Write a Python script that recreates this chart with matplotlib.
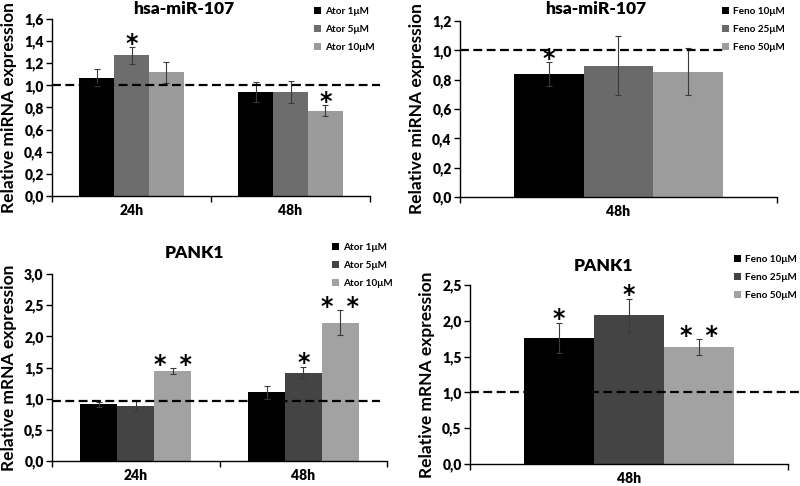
import matplotlib
matplotlib.use("Agg")
import matplotlib.pyplot as plt
import numpy as np

plt.rcParams['font.family'] = ['Lato', 'DejaVu Sans']
plt.rcParams['font.weight'] = 'bold'

# ---- data ----
ator_groups = ["24h", "48h"]
feno_groups = ["48h"]
ator_labels = ["Ator 1μM", "Ator 5μM", "Ator 10μM"]
feno_labels = ["Feno 10μM", "Feno 25μM", "Feno 50μM"]

mir_ator = [[1.07, 0.94], [1.27, 0.94], [1.12, 0.77]]
mir_ator_err = [[0.08, 0.09], [0.075, 0.10], [0.095, 0.05]]
mir_ator_sig = [["", ""], ["*", ""], ["", "*"]]

mir_feno = [[0.84], [0.895], [0.855]]
mir_feno_err = [[0.08], [0.20], [0.16]]
mir_feno_sig = [["*"], [""], [""]]

pank_ator = [[0.91, 1.10], [0.88, 1.42], [1.44, 2.22]]
pank_ator_err = [[0.04, 0.10], [0.08, 0.09], [0.05, 0.20]]
pank_ator_sig = [["", ""], ["", "*"], ["**", "**"]]

pank_feno = [[1.76], [2.08], [1.63]]
pank_feno_err = [[0.21], [0.23], [0.11]]
pank_feno_sig = [["*"], ["*"], ["**"]]

fig = plt.figure(figsize=(8, 4.86), dpi=100)

def panel(rect, groups, vals, errs, sigs, labels, colors, ylim, yticks,
          ylabel, title, title_xy, ref, ref_xmax, leg_anchor):
    ax = fig.add_axes(rect)
    x = np.arange(len(groups))
    w = 0.22
    bars = []
    for i in range(3):
        pos = x + (i - 1) * w
        b = ax.bar(pos, vals[i], width=w, color=colors[i], zorder=2,
                   label=labels[i])
        bars.append(b)
        ax.errorbar(pos, vals[i], yerr=errs[i], fmt='none', ecolor='#3a3a3a',
                    elinewidth=0.8, capsize=2, capthick=0.8, zorder=3)
        for j, s in enumerate(sigs[i]):
            if s:
                txt = "\u2009 ".join(s) if len(s) > 1 else s
                ax.annotate(txt, (pos[j], vals[i][j] + errs[i][j]),
                            xytext=(0, -2.5), textcoords='offset points',
                            ha='center', va='baseline', fontsize=17,
                            fontweight='bold', family='DejaVu Sans',
                            zorder=5)
    ax.axhline(ref, xmin=0, xmax=ref_xmax, color='black', lw=1.6,
               ls=(0, (4, 2)), zorder=4, clip_on=False)
    ax.set_xlim(-0.5, len(groups) - 0.5)
    ax.set_ylim(0, ylim)
    ax.set_yticks(yticks)
    ax.set_yticklabels([f"{t:.1f}".replace('.', ',') for t in yticks])
    ax.set_xticks(x)
    ax.set_xticklabels(groups)
    ax.set_xticks(np.arange(len(groups) + 1) - 0.5, minor=True)
    ax.tick_params(axis='x', which='major', length=0, pad=6, labelsize=10)
    ax.tick_params(axis='x', which='minor', length=4, direction='out', width=1)
    ax.tick_params(axis='y', length=4, direction='out', width=1, labelsize=10,
                   pad=2)
    for lab in ax.get_xticklabels() + ax.get_yticklabels():
        lab.set_fontweight('heavy')
    ax.spines['top'].set_visible(False)
    ax.spines['right'].set_visible(False)
    ax.spines['left'].set_linewidth(1)
    ax.spines['bottom'].set_linewidth(1)
    ax.set_ylabel(ylabel, fontsize=12.5, fontweight='bold', labelpad=5)
    fig.text(title_xy[0], title_xy[1], title, ha='center', va='center',
             fontsize=12.5, fontweight='heavy')
    fig.legend(handles=bars, labels=labels, loc='upper left',
               bbox_to_anchor=leg_anchor, frameon=False,
               handlelength=0.7, handleheight=0.7, handletextpad=0.4,
               labelspacing=0.9, borderaxespad=0, borderpad=0,
               prop={'weight': 'bold', 'size': 7.2})
    return ax

panel([0.065, 0.5967, 0.3975, 0.3643], ator_groups, mir_ator, mir_ator_err,
      mir_ator_sig, ator_labels, ['#000000', '#6d6d6d', '#9b9b9b'], 1.6,
      [0, 0.2, 0.4, 0.6, 0.8, 1.0, 1.2, 1.4, 1.6],
      "Relative miRNA expression", "hsa-miR-107", (0.229, 0.982), 1.0, 1.03,
      (0.392, 0.985))

panel([0.575, 0.5947, 0.396, 0.3621], feno_groups, mir_feno, mir_feno_err,
      mir_feno_sig, feno_labels, ['#000000', '#6a6a6a', '#9c9c9c'], 1.2,
      [0, 0.2, 0.4, 0.6, 0.8, 1.0, 1.2],
      "Relative miRNA expression", "hsa-miR-107", (0.744, 0.982), 1.0, 0.83,
      (0.903, 0.985))

panel([0.065, 0.0514, 0.419, 0.3848], ator_groups, pank_ator, pank_ator_err,
      pank_ator_sig, ator_labels, ['#000000', '#444444', '#a2a2a2'], 3.0,
      [0, 0.5, 1.0, 1.5, 2.0, 2.5, 3.0],
      "Relative mRNA expression", "PANK1", (0.243, 0.479), 0.97, 0.98,
      (0.415, 0.5))

panel([0.5875, 0.0453, 0.3975, 0.3683], feno_groups, pank_feno, pank_feno_err,
      pank_feno_sig, feno_labels, ['#000000', '#444444', '#a2a2a2'], 2.5,
      [0, 0.5, 1.0, 1.5, 2.0, 2.5],
      "Relative mRNA expression", "PANK1", (0.754, 0.452), 1.01, 1.04,
      (0.918, 0.475))

fig.savefig("out.png", dpi=100)
